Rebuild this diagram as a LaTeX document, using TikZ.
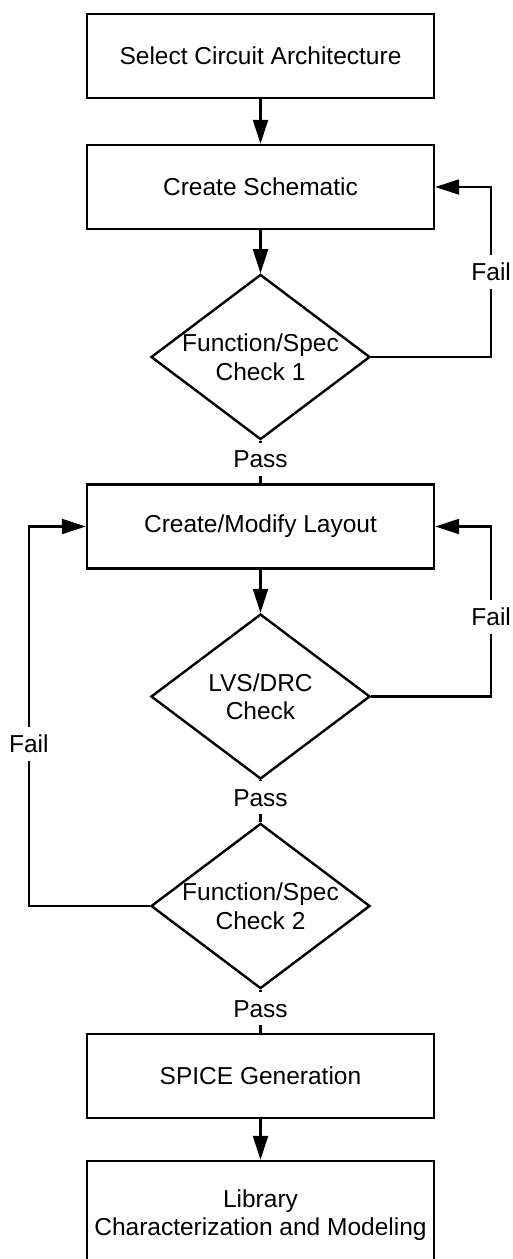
\documentclass[tikz,border=0pt]{standalone}
\usepackage{fontspec}
\setmainfont{Liberation Sans}
\usetikzlibrary{shapes.geometric,arrows.meta}
\begin{document}
\begin{tikzpicture}[x=1pt,y=-1pt,
  every node/.style={font=\fontsize{24.5}{28.5}\selectfont},
  procbox/.style={draw, line width=2.4pt, minimum width=347pt, minimum height=84pt,
                  align=center, inner sep=0pt},
  decision/.style={draw, diamond, aspect=1.32, line width=2.4pt, minimum width=219pt,
                   minimum height=165pt, align=center, inner sep=0pt},
  flow/.style={line width=2.2pt, -{Triangle[length=24pt,width=15pt]}},
  plain/.style={line width=2.2pt},
  lbl/.style={fill=white, inner xsep=2pt, inner ysep=8pt}
]
\useasboundingbox (0,0) rectangle (512,1259);
\clip (0,0) rectangle (512,1259);

% process steps and checks
\node[procbox] (b1) at (260.5,56) {Select Circuit Architecture};
\node[procbox] (b2) at (260.5,187) {Create Schematic};
\node[decision] (d1) at (260.5,357) {Function/Spec\\Check 1};
\node[procbox] (b3) at (260.5,526.5) {Create/Modify Layout};
\node[decision] (d2) at (260.5,696.5) {LVS/DRC\\Check};
\node[decision] (d3) at (260.5,906) {Function/Spec\\Check 2};
\node[procbox] (b4) at (260.5,1076) {SPICE Generation};
\node[procbox, minimum height=108pt] (b5) at (260.5,1215) {Library\\Characterization and Modeling};

% main flow
\draw[flow] (b1) -- (b2);
\draw[flow] (b2) -- (d1);
\draw[plain] (d1.south) -- node[lbl, pos=0.43] {Pass} (b3.north);
\draw[plain] (d2.south) -- node[lbl, pos=0.42] {Pass} (d3.north);
\draw[plain] (d3.south) -- node[lbl, pos=0.44] {Pass} (b4.north);
\draw[flow] (b3) -- (d2);
\draw[flow] (b4) -- (b5);

% failure loops
\draw[flow] (d1.east) -- ++(120,0) |- node[lbl, pos=0.25] {Fail} (b2.east);
\draw[flow] (d2.east) -- ++(120,0) |- node[lbl, pos=0.235] {Fail} (b3.east);
\draw[flow] (d3.west) -- ++(-121,0) |- node[lbl, pos=0.214] {Fail} (b3.west);
\end{tikzpicture}
\end{document}
